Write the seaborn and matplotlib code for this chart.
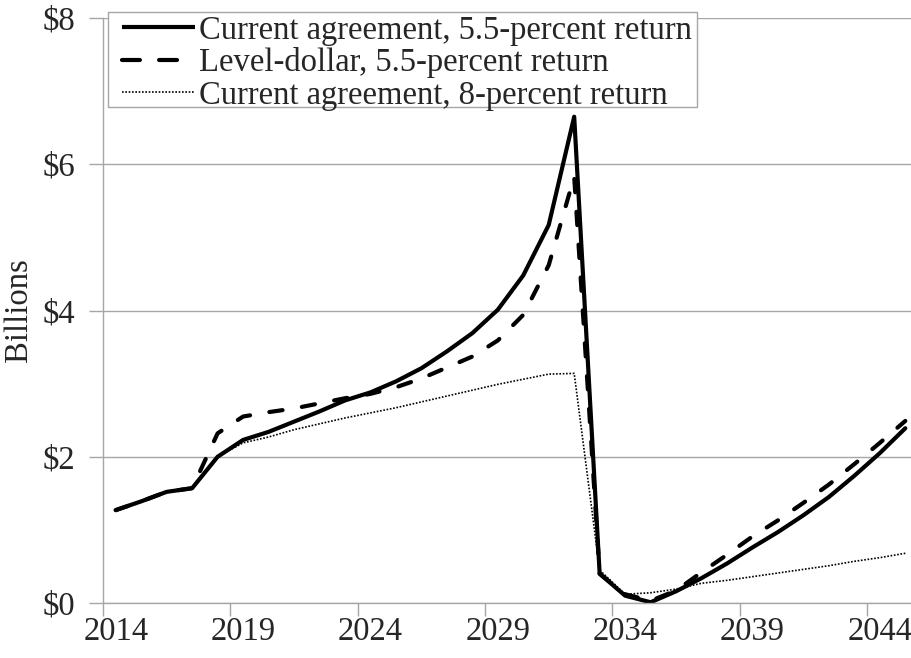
import numpy as np
import pandas as pd
import matplotlib
matplotlib.use("Agg")
import matplotlib.pyplot as plt
import seaborn as sns
from matplotlib.lines import Line2D
from matplotlib.patches import Rectangle
from matplotlib.ticker import FixedLocator, FixedFormatter

# data (billions of dollars)
years = list(range(2014, 2046))
current_55 = [1.27, 1.39, 1.52, 1.57, 2.00, 2.23, 2.34, 2.48, 2.62, 2.77, 2.88,
              3.03, 3.21, 3.44, 3.69, 4.01, 4.48, 5.17, 6.65,
              0.40, 0.10, 0.01, 0.16,
              0.34, 0.54, 0.76, 0.97, 1.20, 1.45, 1.74, 2.05, 2.39]
level_dollar = [1.27, 1.39, 1.52, 1.57, 2.32, 2.55, 2.61, 2.66, 2.73, 2.80, 2.86,
                2.95, 3.07, 3.22, 3.37, 3.59, 3.94, 4.62, 5.83,
                0.40, 0.12, 0.03, 0.17,
                0.42, 0.66, 0.91, 1.13, 1.37, 1.62, 1.90, 2.19, 2.49]
current_8 = [1.27, 1.39, 1.52, 1.57, 2.00, 2.19, 2.27, 2.37, 2.45, 2.53, 2.60,
             2.67, 2.75, 2.83, 2.91, 2.99, 3.06, 3.13, 3.14,
             0.45, 0.12, 0.14, 0.19,
             0.27, 0.31, 0.36, 0.41, 0.46, 0.51, 0.57, 0.62, 0.68]
labels = ["Current agreement, 5.5-percent return",
          "Level-dollar, 5.5-percent return",
          "Current agreement, 8-percent return"]
xlabels = ["2014", "2019", "2024", "2029", "2034", "2039", "2044"]
yticks = [0, 2, 4, 6, 8]

sns.set_theme(style="white")
plt.rcParams["font.family"] = ["Liberation Serif", "DejaVu Serif"]
FS = 23.5
grey = "#a6a6a6"

W, H = 911, 658
fig = plt.figure(figsize=(W / 100, H / 100), dpi=100)
left, right, bottom, top = 103, 911, 603, 18
ax = fig.add_axes([left / W, 1 - bottom / H, (right - left) / W, (bottom - top) / H])

df = pd.DataFrame({"year": years, "a": current_55, "b": level_dollar, "c": current_8})
sns.lineplot(data=df, x="year", y="a", ax=ax, color="black", lw=3,
             solid_joinstyle="round", solid_capstyle="round", legend=False)
sns.lineplot(data=df, x="year", y="b", ax=ax, color="black", lw=3,
             linestyle=(0, (3.2, 4.7)), dash_capstyle="round", legend=False)
sns.lineplot(data=df, x="year", y="c", ax=ax, color="black", lw=1.2,
             linestyle=(0, (1, 1)), legend=False)

# category axis: ticks between categories, labels on category centres
ax.set_xlim(2013.5, 2013.5 + (right - left) / 25.47)
ax.set_ylim(0, 8)
ax.xaxis.set_major_locator(FixedLocator([int(s) for s in xlabels]))
ax.xaxis.set_major_formatter(FixedFormatter(xlabels))
ax.xaxis.set_minor_locator(FixedLocator([2013.5 + 5 * k for k in range(7)]))
ax.tick_params(axis="x", which="major", length=0, pad=10, labelsize=FS)
ax.tick_params(axis="x", which="minor", length=9, width=1, color=grey, direction="out")
ax.yaxis.set_major_locator(FixedLocator(yticks))
ax.yaxis.set_major_formatter(FixedFormatter([r"\$%d" % v for v in yticks]))
ax.tick_params(axis="y", length=10, width=1, color=grey, direction="out", pad=10, labelsize=FS)
ax.tick_params(axis="both", which="both", bottom=True, left=True)

ax.grid(axis="y", color=grey, lw=1)
ax.grid(axis="x", visible=False)
for s in ["top", "right"]:
    ax.spines[s].set_visible(False)
for s in ["left", "bottom"]:
    ax.spines[s].set_color(grey)
    ax.spines[s].set_linewidth(1)

ax.set_xlabel("")
ax.set_ylabel("Billions", fontsize=FS)
ax.yaxis.set_label_coords(-0.085, 0.5)

# legend handles (Excel draws longer dashes in the legend key)
handles = [
    Line2D([], [], color="black", lw=3, solid_capstyle="butt"),
    Line2D([], [], color="black", lw=3, linestyle=(0, (4.3, 4.6)), dash_capstyle="round"),
    Line2D([], [], color="black", lw=1.2, linestyle=(0, (1, 1))),
]
leg = ax.legend(handles, labels, loc="upper left", bbox_to_anchor=(122 / W, 1 - 15 / H),
                bbox_transform=fig.transFigure, borderaxespad=0, fontsize=FS,
                frameon=False, borderpad=0, handlelength=2.25, handletextpad=0.1,
                labelspacing=0.06)
leg.set_zorder(6)
ax.add_patch(Rectangle((108 / W, 1 - 107 / H), (697 - 108) / W, 95 / H,
                       transform=fig.transFigure, facecolor="white",
                       edgecolor=grey, lw=1, zorder=5.5, clip_on=False))

fig.savefig("out.png", dpi=100)
